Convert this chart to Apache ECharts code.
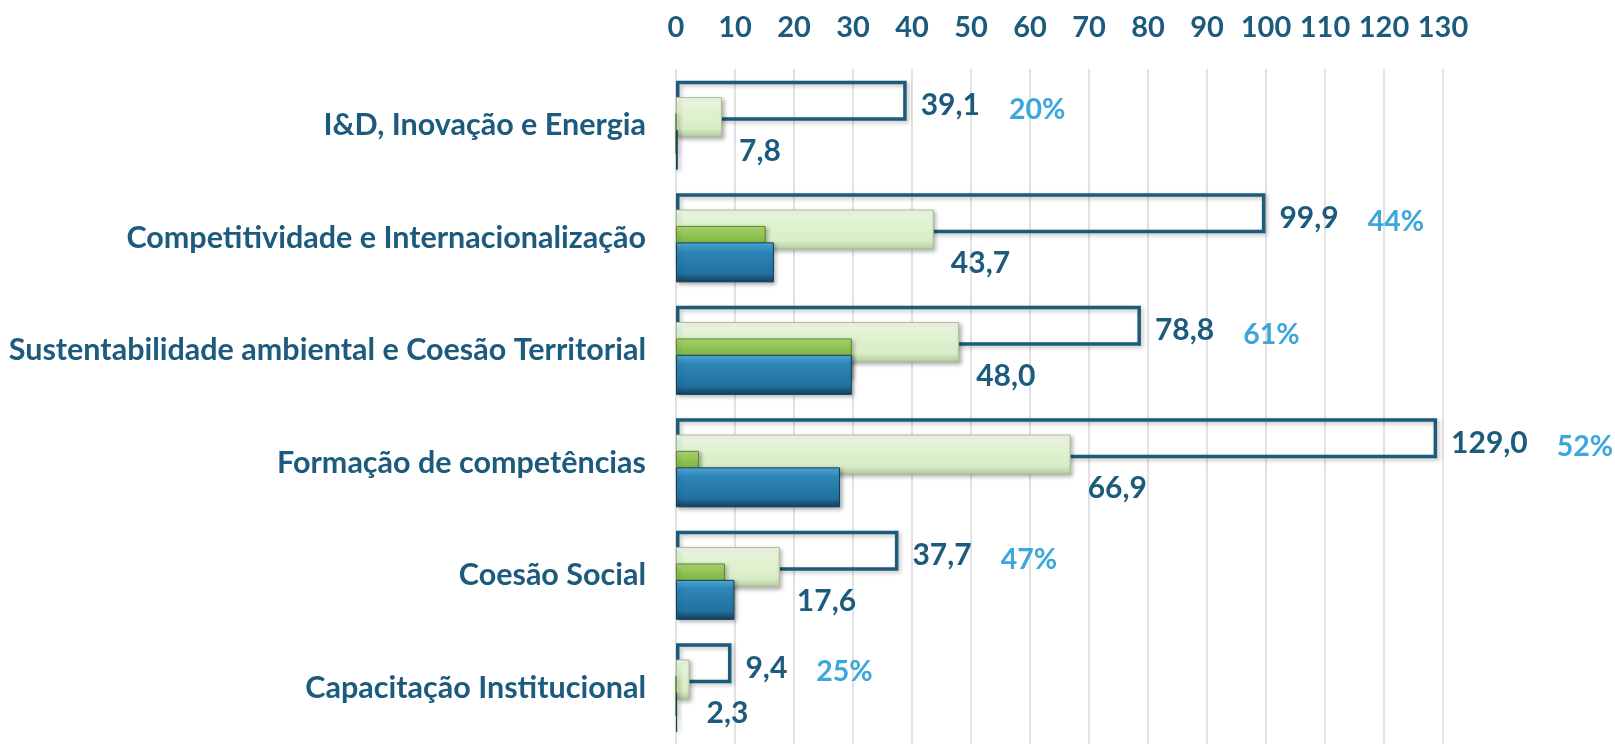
<!DOCTYPE html>
<html>
<head>
<meta charset="utf-8">
<script src="https://cdn.jsdelivr.net/npm/echarts@6/dist/echarts.min.js"></script>
<style>
html,body{margin:0;padding:0;background:#fff;}
#c{width:1615px;height:744px;}
</style>
</head>
<body>
<div id="c"></div>
<script>
const categories = [
  'I&D, Inovação e Energia',
  'Competitividade e Internacionalização',
  'Sustentabilidade ambiental e Coesão Territorial',
  'Formação de competências',
  'Coesão Social',
  'Capacitação Institucional'
];
const totalValues = [39.1, 99.9, 78.8, 129.0, 37.7, 9.4];
const lightGreenValues = [7.8, 43.7, 48.0, 66.9, 17.6, 2.3];
const darkGreenValues = [0, 15.2, 29.8, 3.9, 8.3, 0];
const blueValues = [0.3, 16.6, 29.8, 27.8, 9.9, 0.2];
const pctLabels = ['20%', '44%', '61%', '52%', '47%', '25%'];
const xTicks = { min: 0, max: 130, interval: 10 };

const TEAL = '#1C5B7D';
const PCT = '#3DA6DC';
const FONT = 'Lato';
const fmt = v => v.toFixed(1).replace('.', ',');

function vgrad(stops) {
  return new echarts.graphic.LinearGradient(0, 0, 0, 1,
    stops.map(s => ({ offset: s[0], color: s[1] })));
}

const chart = echarts.init(document.getElementById('c'), null, { renderer: 'canvas' });
chart.setOption({
  animation: false,
  backgroundColor: '#ffffff',
  grid: { left: 676, right: 172, top: 69, bottom: -4, containLabel: false },
  xAxis: {
    type: 'value', position: 'top',
    min: xTicks.min, max: xTicks.max, interval: xTicks.interval,
    axisLine: { show: false }, axisTick: { show: false },
    splitLine: { show: true, lineStyle: { color: '#D9D9D9', width: 1.5 } },
    axisLabel: { color: TEAL, fontFamily: FONT, fontWeight: 'bold', fontSize: 29, margin: 27 }
  },
  yAxis: {
    type: 'category', data: categories, inverse: true,
    axisLine: { show: false }, axisTick: { show: false },
    axisLabel: { color: TEAL, fontFamily: FONT, fontWeight: 'bold', fontSize: 30.5, margin: 30 }
  },
  series: [
    {
      name: 'Total', type: 'bar', data: totalValues,
      barWidth: 40, barGap: '-59%',
      itemStyle: {
        color: 'rgba(255,255,255,0)', borderColor: '#1D5B7C', borderWidth: 3.5,
        shadowColor: 'rgba(0,0,0,0.25)', shadowBlur: 4, shadowOffsetX: 2, shadowOffsetY: 2
      },
      label: {
        show: true, position: 'right', distance: 14, offset: [0, 5],
        formatter: p => '{v|' + fmt(p.value) + '}{p|' + pctLabels[p.dataIndex] + '}',
        rich: {
          v: { color: TEAL, fontFamily: FONT, fontWeight: 'bold', fontSize: 30 },
          p: { color: PCT, fontFamily: FONT, fontWeight: 'bold', fontSize: 28.5, padding: [8, 0, 0, 29] }
        }
      }
    },
    {
      name: 'Light', type: 'bar', data: lightGreenValues,
      barWidth: 40, barGap: '-59%',
      itemStyle: {
        color: vgrad([[0, '#FAFDF6'], [0.22, '#E4F3D6'], [0.78, '#D8EDC5'], [1, '#B7CBA2']]),
        borderColor: '#A9BD95', borderWidth: 1,
        shadowColor: 'rgba(0,0,0,0.3)', shadowBlur: 4, shadowOffsetX: 2, shadowOffsetY: 2
      },
      label: {
        show: true, position: 'right', distance: 15, offset: [2, 34],
        color: TEAL, fontFamily: FONT, fontWeight: 'bold', fontSize: 30,
        formatter: p => fmt(p.value)
      }
    },
    {
      name: 'DarkGreen', type: 'bar', data: darkGreenValues,
      barWidth: 40, barGap: '-59%',
      itemStyle: {
        color: vgrad([[0, '#B3DC78'], [0.25, '#8CC04E'], [0.8, '#77A93C'], [1, '#4F7A22']]),
        borderColor: '#5E8A2E', borderWidth: 1,
        shadowColor: 'rgba(0,0,0,0.3)', shadowBlur: 4, shadowOffsetX: 2, shadowOffsetY: 2
      }
    },
    {
      name: 'Blue', type: 'bar', data: blueValues,
      barWidth: 40, barGap: '-59%',
      itemStyle: {
        color: vgrad([[0, '#55B2E0'], [0.22, '#2D86B7'], [0.78, '#22719E'], [1, '#123E5A']]),
        borderColor: '#143F5C', borderWidth: 1,
        shadowColor: 'rgba(0,0,0,0.3)', shadowBlur: 4, shadowOffsetX: 2, shadowOffsetY: 2
      }
    }
  ]
});
</script>
</body>
</html>
